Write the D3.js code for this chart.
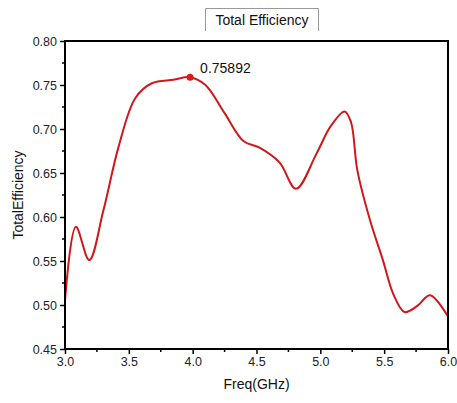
<!DOCTYPE html>
<html>
<head>
<meta charset="utf-8">
<script src="https://cdn.jsdelivr.net/npm/d3@7"></script>
<style>
  body { margin: 0; background: #fff; }
  svg { display: block; font-family: "Liberation Sans", Arial, sans-serif; }
</style>
</head>
<body>
<div id="chart"></div>
<script>
// Data
const freq = [3.0, 3.085, 3.19, 3.3, 3.42, 3.55, 3.68, 3.85, 3.98, 4.1, 4.25, 4.4, 4.52, 4.68, 4.81,
  4.97, 5.08, 5.19, 5.24, 5.29, 5.39, 5.49, 5.57, 5.66, 5.76, 5.86, 6.0];
const efficiency = [0.505, 0.589, 0.551, 0.607, 0.68, 0.735, 0.752, 0.756, 0.75892, 0.75, 0.718, 0.686, 0.679, 0.662, 0.632,
  0.672, 0.703, 0.72, 0.708, 0.653, 0.596, 0.551, 0.513, 0.492, 0.499, 0.511, 0.487];
const xTicks = [3.0, 3.5, 4.0, 4.5, 5.0, 5.5, 6.0];
const yTicks = [0.45, 0.50, 0.55, 0.60, 0.65, 0.70, 0.75, 0.80];
const peakIndex = 8;

const width = 457, height = 403;
const margin = { top: 41, right: 9, bottom: 54, left: 65 };

const svg = d3.select("#chart").append("svg")
  .attr("width", width)
  .attr("height", height);

const x = d3.scaleLinear().domain([3, 6]).range([margin.left, width - margin.right]);
const y = d3.scaleLinear().domain([0.45, 0.80]).range([height - margin.bottom, margin.top]);

// minor ticks
const xMinor = d3.range(3.25, 6, 0.5);
const yMinor = d3.range(0.475, 0.8, 0.05);

svg.append("g").selectAll("line")
  .data(xMinor)
  .join("line")
  .attr("x1", d => x(d)).attr("x2", d => x(d))
  .attr("y1", y(0.45)).attr("y2", y(0.45) + 3)
  .attr("stroke", "#000").attr("stroke-width", 1.5);

svg.append("g").selectAll("line")
  .data(yMinor)
  .join("line")
  .attr("x1", x(3)).attr("x2", x(3) - 3)
  .attr("y1", d => y(d)).attr("y2", d => y(d))
  .attr("stroke", "#000").attr("stroke-width", 1.5);

// Axes
const xAxis = svg.append("g")
  .attr("transform", `translate(0,${y(0.45)})`)
  .call(d3.axisBottom(x).tickValues(xTicks).tickFormat(d3.format(".1f")).tickSize(5).tickPadding(3));
const yAxis = svg.append("g")
  .attr("transform", `translate(${x(3)},0)`)
  .call(d3.axisLeft(y).tickValues(yTicks).tickFormat(d3.format(".2f")).tickSize(5).tickPadding(3));

[xAxis, yAxis].forEach(a => {
  a.select(".domain").remove();
  a.selectAll(".tick line").attr("stroke-width", 1.5);
  a.selectAll(".tick text")
    .attr("font-size", 12.5)
    .attr("font-family", "'Liberation Sans', Arial, sans-serif")
    .attr("fill", "#222");
});

// Curve
const line = d3.line()
  .x((d, i) => x(freq[i]))
  .y(d => y(d))
  .curve(d3.curveCatmullRom.alpha(0.5));

svg.append("path")
  .datum(efficiency)
  .attr("fill", "none")
  .attr("stroke", "#d0181c")
  .attr("stroke-width", 2)
  .attr("d", line);

// Frame
svg.append("rect")
  .attr("x", x(3)).attr("y", y(0.8))
  .attr("width", x(6) - x(3)).attr("height", y(0.45) - y(0.8))
  .attr("fill", "none").attr("stroke", "#000").attr("stroke-width", 2);

// Peak marker
svg.append("circle")
  .attr("cx", x(freq[peakIndex])).attr("cy", y(efficiency[peakIndex]))
  .attr("r", 3.5).attr("fill", "#e0191c");

svg.append("text")
  .attr("x", x(freq[peakIndex]) + 10).attr("y", y(efficiency[peakIndex]) - 4)
  .attr("font-size", 14).attr("fill", "#111")
  .text(efficiency[peakIndex].toFixed(5));

// Axis titles
svg.append("text")
  .attr("x", (x(3) + x(6)) / 2).attr("y", 389)
  .attr("text-anchor", "middle").attr("font-size", 14).attr("fill", "#111")
  .text("Freq(GHz)");

svg.append("text")
  .attr("transform", `translate(23,${(y(0.45) + y(0.8)) / 2}) rotate(-90)`)
  .attr("text-anchor", "middle").attr("font-size", 14).attr("fill", "#111")
  .text("TotalEfficiency");

// Title with box
svg.append("text")
  .attr("x", 262).attr("y", 25)
  .attr("text-anchor", "middle").attr("font-size", 14).attr("fill", "#111")
  .text("Total Efficiency");

svg.append("path")
  .attr("d", "M205.5,31 V8.5 H318.5 V31")
  .attr("fill", "none").attr("stroke", "#999").attr("stroke-width", 1);
</script>
</body>
</html>
